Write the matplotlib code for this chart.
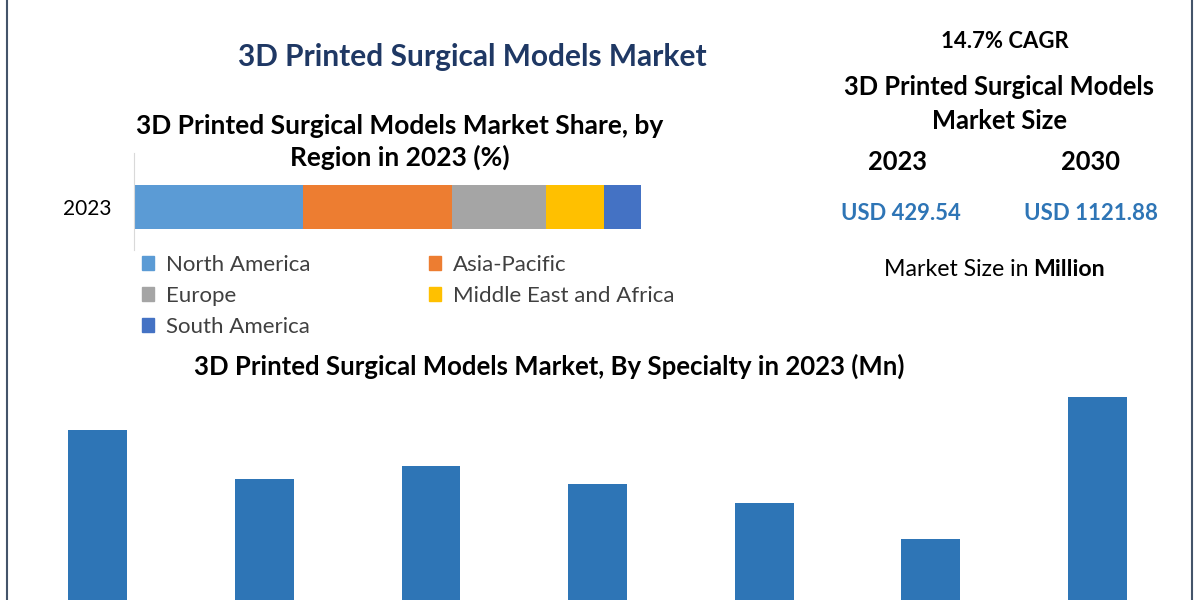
import matplotlib.pyplot as plt
from matplotlib.lines import Line2D
from matplotlib.patches import Patch

plt.rcParams["font.family"] = ["Lato", "DejaVu Sans"]

W, H = 1200, 600

# region share 2023 (%)
regions = ["North America", "Asia-Pacific", "Europe", "Middle East and Africa", "South America"]
region_share = [33.4, 29.3, 18.6, 11.4, 7.3]
region_colors = ["#5B9BD5", "#ED7D31", "#A5A5A5", "#FFC000", "#4472C4"]

# specialty values 2023 (Mn), labels not shown in the picture
specialties = ["S1", "S2", "S3", "S4", "S5", "S6", "S7"]
specialty_mn = [72.4, 59.2, 62.7, 57.9, 52.8, 43.2, 81.2]

market_2023 = "USD 429.54"
market_2030 = "USD 1121.88"
cagr = "14.7% CAGR"


def fx(px):
    return px / W


def fy(py):
    return 1 - py / H


fig = plt.figure(figsize=(12, 6), dpi=100)

# frame lines left and right
for x in (7, 1192):
    fig.add_artist(Line2D([fx(x), fx(x)], [0, 1], color="#44546A", lw=1.5))

fig.text(fx(472), fy(57), "3D Printed Surgical Models Market", ha="center", va="center",
         fontsize=21.5, fontweight="bold", color="#1F3864")

fig.text(fx(400), fy(142), "3D Printed Surgical Models Market Share, by\nRegion in 2023 (%)",
         ha="center", va="center", fontsize=19, fontweight="bold", color="black",
         linespacing=1.36)

# stacked share bar
ax1 = fig.add_axes([fx(134), fy(250), fx(680 - 134), (250 - 153) / H])
left = 0
for name, val, col in zip(regions, region_share, region_colors):
    ax1.barh([0], [val], left=left, height=0.46, color=col, label=name)
    left += val
ax1.set_xlim(0, 107.7)
ax1.set_ylim(-0.443, 0.557)
ax1.set_yticks([0])
ax1.set_yticklabels(["2023"], fontsize=15)
ax1.tick_params(axis="y", length=0, pad=16.5)
ax1.set_xticks([])
for s in ("top", "right", "bottom"):
    ax1.spines[s].set_visible(False)
ax1.spines["left"].set_color("#D9D9D9")

order = [0, 2, 4, 1, 3]
handles = [Patch(color=region_colors[i]) for i in order]
labels = [regions[i] for i in order]
fig.legend(handles, labels, ncol=2, loc="upper left", bbox_to_anchor=(fx(122), fy(235)),
           frameon=False, fontsize=16, handlelength=0.55, handleheight=0.55,
           handletextpad=0.55, columnspacing=5.3, labelspacing=0.49, labelcolor="#404040")

# right info panel
fig.text(fx(1005), fy(42), cagr, ha="center", va="center", fontsize=15.9, fontweight="bold")
fig.text(fx(999), fy(104), "3D Printed Surgical Models\nMarket Size", ha="center", va="center",
         fontsize=18.4, fontweight="bold", linespacing=1.5)
fig.text(fx(897), fy(162), "2023", ha="center", va="center", fontsize=18.4, fontweight="bold")
fig.text(fx(1091), fy(162), "2030", ha="center", va="center", fontsize=18.4, fontweight="bold")
fig.text(fx(901), fy(214), market_2023, ha="center", va="center", fontsize=15.8,
         fontweight="bold", color="#2E75B6")
fig.text(fx(1091), fy(213), market_2030, ha="center", va="center", fontsize=16,
         fontweight="bold", color="#2E75B6")
fig.text(fx(1028), fy(270), "Market Size in", ha="right", va="center", fontsize=16.7)
fig.text(fx(1033), fy(270), "Million", ha="left", va="center", fontsize=16.7, fontweight="bold")

fig.text(fx(549), fy(366), "3D Printed Surgical Models Market, By Specialty in 2023 (Mn)",
         ha="center", va="center", fontsize=18.5, fontweight="bold")

# specialty bars, cut off at bottom of the image
ax2 = fig.add_axes([fx(7), fy(700), fx(1192 - 7), (700 - 380) / H])
ax2.bar(range(len(specialties)), specialty_mn, width=0.354, color="#2E75B6")
ax2.set_xlim(-0.546, 6.57)
ax2.set_ylim(0, 85.8)
ax2.axis("off")

fig.savefig("out.png", dpi=100)
